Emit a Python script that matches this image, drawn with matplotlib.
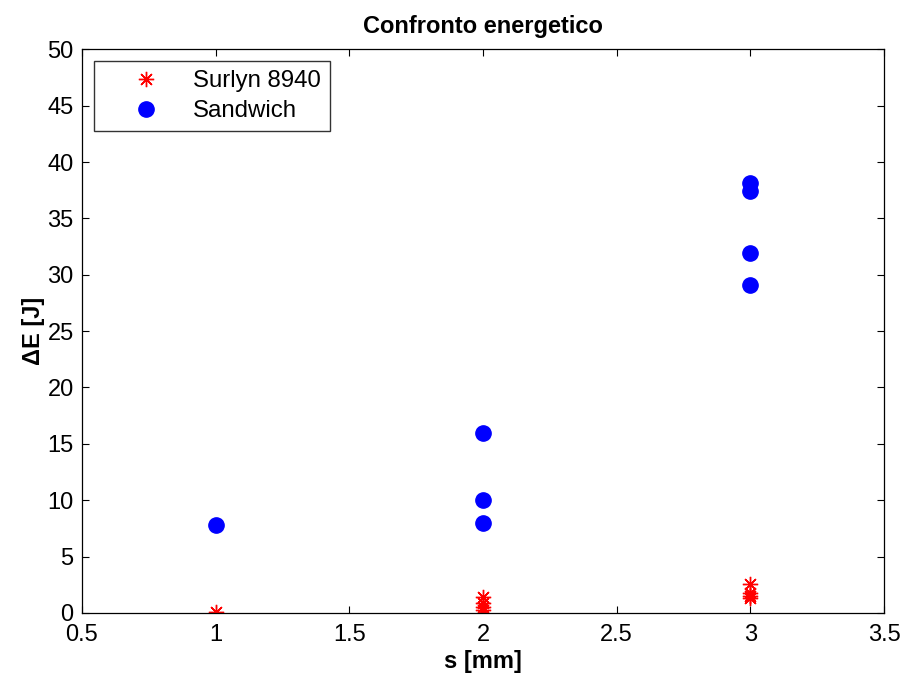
import matplotlib
matplotlib.use("Agg")
import matplotlib.pyplot as plt

# Surlyn 8940 measurements
surlyn_s = [1, 2, 2, 2, 2, 3, 3, 3, 3]
surlyn_dE = [0.1, 1.4, 0.9, 0.5, 0.3, 2.6, 1.8, 1.5, 1.3]

# Sandwich measurements
sandwich_s = [1, 2, 2, 2, 3, 3, 3, 3]
sandwich_dE = [7.8, 16.0, 10.0, 8.0, 38.1, 37.4, 31.9, 29.1]

xticks = [0.5, 1, 1.5, 2, 2.5, 3, 3.5]
yticks = list(range(0, 51, 5))

plt.rcParams['font.family'] = ['Liberation Sans', 'DejaVu Sans']
FS = 17

fig = plt.figure(figsize=(9.03, 6.75), dpi=100)
ax = fig.add_axes([0.0908, 0.0919, 0.8882, 0.8351])

# matlab-style asterisk: 8 arms
ax.plot(surlyn_s, surlyn_dE, ls='none', marker=(8, 2, 0), color='red', ms=11,
        markeredgewidth=1.0, label='Surlyn 8940')
ax.plot(sandwich_s, sandwich_dE, ls='none', marker='o', color='blue', ms=11,
        label='Sandwich')

ax.set_xlim(0.5, 3.5)
ax.set_ylim(0, 50)
ax.set_xticks(xticks)
ax.set_xticklabels([f"{t:g}" for t in xticks])
ax.set_yticks(yticks)
ax.tick_params(direction='in', top=True, right=True, labelsize=FS, length=5,
               width=0.8, pad=6)
ax.tick_params(axis='x', pad=8)
for sp in ax.spines.values():
    sp.set_linewidth(0.9)

ax.set_title("Confronto energetico", fontsize=FS, fontweight='bold', pad=12)
ax.set_xlabel("s [mm]", fontsize=FS, fontweight='bold', labelpad=3)
ax.set_ylabel("ΔE [J]", fontsize=FS, fontweight='bold', labelpad=2)

leg = ax.legend(loc='upper left', fontsize=FS + 0.3, frameon=True, fancybox=False,
                edgecolor='black', borderaxespad=0.5, handletextpad=0.15,
                borderpad=0.38, labelspacing=0.32, handlelength=3.6)
leg.get_frame().set_linewidth(1.0)

fig.savefig("out.png", dpi=100)
